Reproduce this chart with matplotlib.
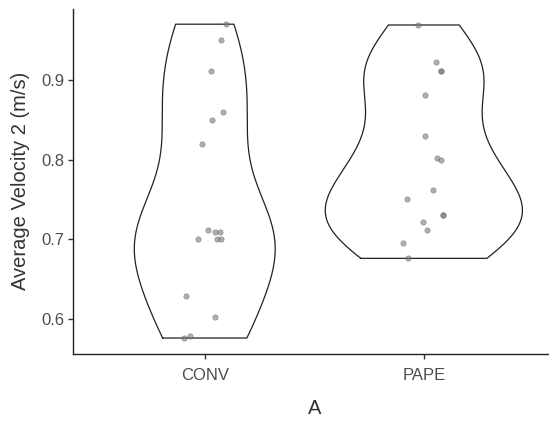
import numpy as np
import matplotlib.pyplot as plt

groups = ['CONV', 'PAPE']
conv = [0.970, 0.950, 0.911, 0.860, 0.850, 0.820, 0.711, 0.709, 0.709,
        0.700, 0.700, 0.700, 0.629, 0.602, 0.578, 0.576]
pape = [0.969, 0.922, 0.911, 0.911, 0.881, 0.829, 0.802, 0.800, 0.762,
        0.750, 0.730, 0.730, 0.722, 0.711, 0.695, 0.676]
# horizontal jitter (category units)
conv_jit = [0.099, 0.074, 0.027, 0.081, 0.035, -0.012, 0.017, 0.046, 0.068,
            -0.033, 0.056, 0.076, -0.087, 0.047, -0.068, -0.094]
pape_jit = [-0.027, 0.055, 0.079, 0.079, 0.003, 0.003, 0.061, 0.079, 0.044,
            -0.078, 0.087, 0.087, -0.003, 0.016, -0.096, -0.073]
yticks = [0.6, 0.7, 0.8, 0.9]

plt.rcParams['font.family'] = ['Liberation Sans', 'DejaVu Sans']


def kde(vals):
    # gaussian kde, bw.nrd0, trimmed to data range like ggplot
    v = np.asarray(vals)
    n = len(v)
    iqr = np.subtract(*np.percentile(v, [75, 25]))
    bw = 0.9 * min(v.std(ddof=1), iqr / 1.34) * n ** -0.2
    ys = np.linspace(v.min(), v.max(), 512)
    d = np.exp(-0.5 * ((ys[:, None] - v[None, :]) / bw) ** 2).sum(1)
    d /= n * bw * np.sqrt(2 * np.pi)
    return ys, d


fig = plt.figure(figsize=(5.49, 4.21), dpi=100)
ax = fig.add_axes([73.3 / 549, 67.3 / 421, 482 / 549, 345.2 / 421])

dens = [kde(conv), kde(pape)]
dmax = max(d.max() for _, d in dens)
for i, (ys, d) in enumerate(dens):
    x0 = i + 1
    w = d / dmax * 0.45
    xs = np.concatenate([x0 - w, (x0 + w)[::-1], [x0 - w[0]]])
    yy = np.concatenate([ys, ys[::-1], [ys[0]]])
    ax.plot(xs, yy, color='#222222', lw=0.9)

for i, (vals, jit) in enumerate([(conv, conv_jit), (pape, pape_jit)]):
    ax.scatter(np.array(jit) + i + 1, vals, s=15, color='#7a7a7a', alpha=0.6,
               edgecolors='#555555', linewidths=0.4, zorder=3)

allv = conv + pape
lo, hi = min(allv), max(allv)
pad = (hi - lo) * 0.05
ax.set_ylim(lo - pad, hi + pad)
ax.set_xlim(0.4, 2.6)
ax.set_xticks([1, 2])
ax.set_xticklabels(groups)
ax.set_yticks(yticks)
ax.set_yticklabels(['%.1f' % t for t in yticks])
ax.tick_params(colors='#333333', labelcolor='#4D4D4D', labelsize=12,
               length=3.5, width=1, pad=3)
ax.tick_params(axis='x', pad=7)
ax.spines['top'].set_visible(False)
ax.spines['right'].set_visible(False)
for s in ['left', 'bottom']:
    ax.spines[s].set_color('#222222')
    ax.spines[s].set_linewidth(1)
ax.set_xlabel('A', fontsize=14.5, color='#333333', labelpad=11)
ax.set_ylabel('Average Velocity 2 (m/s)', fontsize=14.5, color='#333333',
              labelpad=8)

fig.savefig('out.png', dpi=100)
